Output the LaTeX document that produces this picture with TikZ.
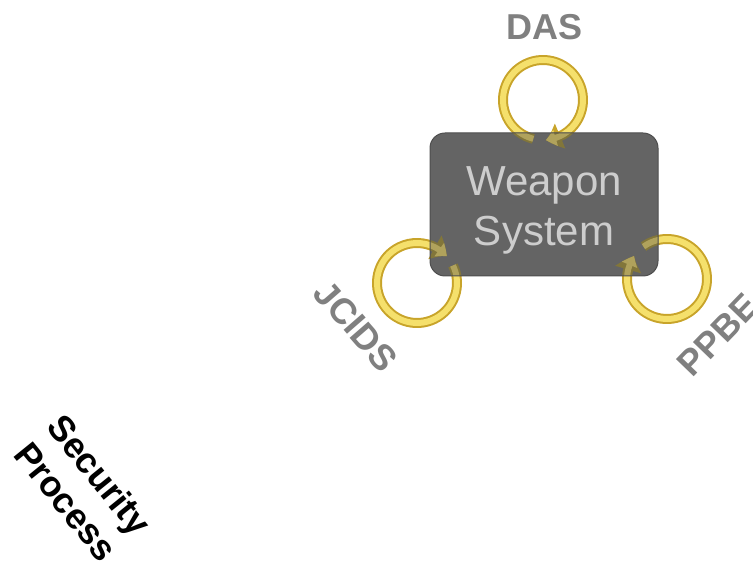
\documentclass[tikz,border=0pt]{standalone}
\usepackage{fontspec}
\setmainfont{Liberation Sans}
\usetikzlibrary{arrows.meta,bending}
\definecolor{golddark}{RGB}{200,164,42}
\definecolor{goldlight}{RGB}{245,224,108}
\definecolor{olivedark}{RGB}{130,118,58}
\definecolor{olivelight}{RGB}{176,162,92}
\definecolor{boxgray}{RGB}{100,100,100}
\definecolor{boxedge}{RGB}{78,78,78}
\definecolor{textlight}{RGB}{205,205,205}
\definecolor{labelgray}{RGB}{128,128,128}
\newcommand\goldring[5]{%
  \draw[line width=10pt,draw=#4,-{Triangle[width=26pt,length=15pt,bend]}]
    ([shift={(#2:40pt)}]#1) arc[start angle=#2,end angle=#3,radius=40pt];
  \draw[line width=6pt,draw=#5,-{Triangle[width=16pt,length=10pt,bend]}]
    ([shift={(#2:40pt)}]#1) arc[start angle=#2,end angle=#3,radius=40pt];
}
\begin{document}
\begin{tikzpicture}[x=1pt,y=1pt,
  wsbox/.style={rectangle,rounded corners=15pt,fill=boxgray,minimum width=228pt,minimum height=143pt,inner sep=0pt,outer sep=0pt},
  boxline/.style={draw=boxedge,line width=1pt,rounded corners=15pt},
  wstext/.style={align=center,text=textlight,font=\fontsize{42}{50}\selectfont,inner sep=0pt},
  lbl/.style={text=labelgray,font=\fontsize{36}{43}\selectfont\bfseries,inner sep=0pt},
  sectext/.style={text=black,align=center,font=\fontsize{36}{43}\selectfont\bfseries,inner sep=0pt}]
\useasboundingbox (0,0) rectangle (753,570);
\coordinate (dasc) at (543,470);
\coordinate (jcidsc) at (417,287);
\coordinate (ppbec) at (667,291);
\goldring{dasc}{256}{-86}{golddark}{goldlight}
\goldring{jcidsc}{26}{-318}{golddark}{goldlight}
\goldring{ppbec}{126}{-215}{golddark}{goldlight}
\node[wsbox] (ws) at (544,365.5) {};
\begin{scope}
  \clip[rounded corners=15pt] (ws.south west) rectangle (ws.north east);
  \goldring{dasc}{256}{-86}{olivedark}{olivelight}
  \goldring{jcidsc}{26}{-318}{olivedark}{olivelight}
  \goldring{ppbec}{126}{-215}{olivedark}{olivelight}
\end{scope}
\draw[boxline] (ws.south west) rectangle (ws.north east);
\node[wstext] (wst) at ([yshift=-6pt]ws.center) {Weapon\\System};
\node[lbl] (das) at (545,543) {DAS};
\node[lbl,rotate=-49] (jcids) at (356,244) {JCIDS};
\node[lbl,rotate=46] (ppbe) at (718,235) {PPBE};
\node[sectext,rotate=-51] (sec) at (83,82) {Security\\Process};
\end{tikzpicture}
\end{document}
